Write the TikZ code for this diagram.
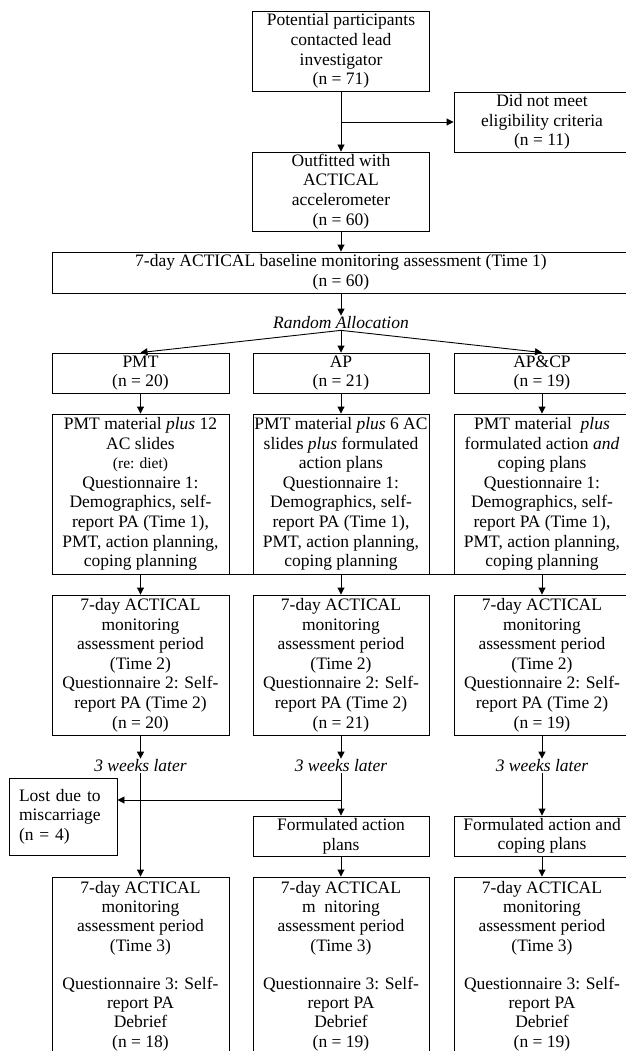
\documentclass[tikz,border=0pt]{standalone}
\usepackage{fontspec}
\setmainfont{Liberation Serif}
\usetikzlibrary{arrows.meta}
\begin{document}
\begin{tikzpicture}[x=1pt,y=-1pt,
  box/.style={draw, line width=0.9pt, rectangle, align=center, inner sep=0pt,
    font=\fontsize{17.5}{19.6}\selectfont},
  finbox/.style={box, font=\fontsize{17.5}{19.2}\selectfont},
  arr/.style={line width=0.9pt, -{Triangle[length=7pt,width=7pt]}},
  ln/.style={line width=0.9pt},
  lbl/.style={font=\fontsize{17.5}{19.6}\selectfont\itshape, inner sep=1pt}]
\useasboundingbox (0,0) rectangle (625,1051);
% top part
\node[box, minimum width=177, minimum height=80] (top) at (341,51)
  {Potential participants\\contacted lead\\investigator\\(n = 71)};
\node[box, minimum width=176, minimum height=60] (elig) at (542,122)
  {Did not meet\\eligibility criteria\\(n = 11)};
\node[box, minimum width=177, minimum height=79] (outfit) at (341,191.5)
  {Outfitted with\\ACTICAL\\accelerometer\\(n = 60)};
\node[box, minimum width=578, minimum height=41] (base) at (341,272.5)
  {7-day ACTICAL baseline monitoring assessment (Time 1)\\(n = 60)};
\node[lbl] (ra) at (341,323) {Random Allocation};
% groups
\node[box, minimum width=177, minimum height=40] (pmt) at (140.5,373) {PMT\\(n = 20)};
\node[box, minimum width=176, minimum height=40] (ap) at (341,373) {AP\\(n = 21)};
\node[box, minimum width=176, minimum height=40] (apcp) at (542,373) {AP\&CP\\(n = 19)};
% materials
\node[box, minimum width=177, minimum height=160] (mat1) at (140.5,494)
  {PMT material \textit{plus} 12\\AC slides\\{\fontsize{15.5}{19.6}\selectfont (re: diet)}\\Questionnaire 1:\\Demographics, self-\\report PA (Time 1),\\PMT, action planning,\\coping planning};
\node[box, minimum width=176, minimum height=160] (mat2) at (341,494)
  {PMT material \textit{plus} 6 AC\\slides \textit{plus} formulated\\action plans\\Questionnaire 1:\\Demographics, self-\\report PA (Time 1),\\PMT, action planning,\\coping planning};
\node[box, minimum width=176, minimum height=160] (mat3) at (542,494)
  {PMT material ~\textit{plus}\\formulated action \textit{and}\\coping plans\\Questionnaire 1:\\Demographics, self-\\report PA (Time 1),\\PMT, action planning,\\coping planning};
\draw[ln] (mat1.south west) -- (mat3.south east);
% time 2
\node[box, minimum width=177, minimum height=140] (tt1) at (140.5,665)
  {7-day ACTICAL\\monitoring\\assessment period\\(Time 2)\\Questionnaire 2: Self-\\report PA (Time 2)\\(n = 20)};
\node[box, minimum width=176, minimum height=140] (tt2) at (341,665)
  {7-day ACTICAL\\monitoring\\assessment period\\(Time 2)\\Questionnaire 2: Self-\\report PA (Time 2)\\(n = 21)};
\node[box, minimum width=176, minimum height=140] (tt3) at (542,665)
  {7-day ACTICAL\\monitoring\\assessment period\\(Time 2)\\Questionnaire 2: Self-\\report PA (Time 2)\\(n = 19)};
\node[lbl] (wk1) at (140.5,766) {3 weeks later};
\node[lbl] (wk2) at (341,766) {3 weeks later};
\node[lbl] (wk3) at (542,766) {3 weeks later};
% lost and formulated
\node[box, text width=88, inner xsep=10pt, align=left, minimum height=77] (lost) at (63,816.5)
  {Lost due to\\miscarriage\\(n = 4)};
\node[box, minimum width=176, minimum height=40] (form2) at (341,836)
  {Formulated action\\plans};
\node[box, minimum width=176, minimum height=40] (form3) at (542,836)
  {Formulated action and\\coping plans};
% time 3
\node[finbox, minimum width=177, minimum height=178] (fin1) at (140.5,966)
  {7-day ACTICAL\\monitoring\\assessment period\\(Time 3)\\[19.2pt]Questionnaire 3: Self-\\report PA\\Debrief\\(n = 18)};
\node[finbox, minimum width=176, minimum height=178] (fin2) at (341,966)
  {7-day ACTICAL\\m~~nitoring\\assessment period\\(Time 3)\\[19.2pt]Questionnaire 3: Self-\\report PA\\Debrief\\(n = 19)};
\node[finbox, minimum width=176, minimum height=178] (fin3) at (542,966)
  {7-day ACTICAL\\monitoring\\assessment period\\(Time 3)\\[19.2pt]Questionnaire 3: Self-\\report PA\\Debrief\\(n = 19)};
% connectors
\draw[arr] (top.south) -- (outfit.north);
\draw[arr] (top.south |- elig.west) -- (elig.west);
\draw[arr] (outfit.south) -- (base.north -| outfit.south);
\draw[arr] (base.south -| ra.north) -- (ra.north);
\draw[arr] (ra.south) -- (pmt.north);
\draw[arr] (ra.south) -- (ap.north);
\draw[arr] (ra.south) -- (apcp.north);
\draw[arr] (pmt.south) -- (mat1.north);
\draw[arr] (ap.south) -- (mat2.north);
\draw[arr] (apcp.south) -- (mat3.north);
\draw[arr] (mat1.south) -- (tt1.north);
\draw[arr] (mat2.south) -- (tt2.north);
\draw[arr] (mat3.south) -- (tt3.north);
\draw[arr] (tt1.south) -- (wk1.north);
\draw[arr] (tt2.south) -- (wk2.north);
\draw[arr] (tt3.south) -- (wk3.north);
\draw[arr] (wk1.south) -- (fin1.north);
\draw[arr] (wk2.south) -- (form2.north);
\draw[arr] (wk3.south) -- (form3.north);
\coordinate (j2) at (341,800);
\draw[arr] (j2) -- (lost.east |- j2);
\draw[arr] (form2.south) -- (fin2.north);
\draw[arr] (form3.south) -- (fin3.north);
\end{tikzpicture}
\end{document}
